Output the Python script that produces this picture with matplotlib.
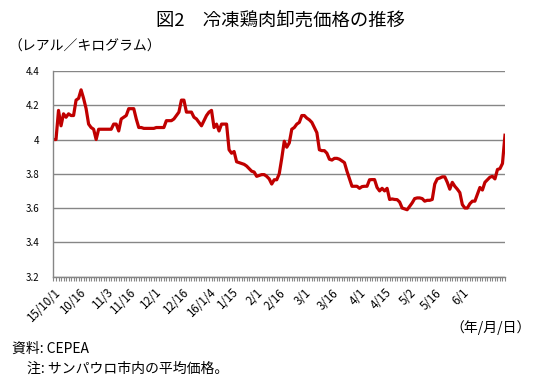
import pandas as pd
import matplotlib
matplotlib.use("Agg")
from matplotlib import pyplot as plt
from matplotlib.ticker import FixedLocator

plt.rcParams['font.family'] = ['Noto Sans CJK JP', 'DejaVu Sans']

# Business days (Sao Paulo) from 2015/10/1 to 2016/6/24.
holidays = ["2015-10-12", "2015-11-02", "2015-11-20", "2015-12-25",
            "2016-01-01", "2016-01-25", "2016-02-08", "2016-02-09",
            "2016-03-25", "2016-04-21", "2016-05-26"]
dates = pd.bdate_range("2015-10-01", "2016-06-24", freq="C", holidays=holidays)

# Wholesale price of frozen chicken (BRL/kg).
prices = [
    4.00, 4.00, 4.17, 4.08, 4.15, 4.13, 4.15, 4.14, 4.14, 4.23,
    4.24, 4.29, 4.24, 4.18, 4.09, 4.07, 4.06, 4.00, 4.06, 4.06,
    4.06, 4.06, 4.06, 4.06, 4.09, 4.09, 4.05, 4.12, 4.13, 4.14,
    4.18, 4.18, 4.18, 4.12, 4.07, 4.07, 4.065, 4.065, 4.065, 4.065,
    4.065, 4.07, 4.07, 4.07, 4.07, 4.11, 4.11, 4.11, 4.12, 4.14,
    4.16, 4.23, 4.23, 4.16, 4.16, 4.16, 4.13, 4.12, 4.10, 4.08,
    4.11, 4.14, 4.16, 4.17, 4.07, 4.09, 4.05, 4.09, 4.09, 4.09,
    3.94, 3.92, 3.93, 3.87, 3.865, 3.86, 3.855, 3.845, 3.83, 3.815,
    3.81, 3.785, 3.79, 3.795, 3.795, 3.785, 3.77, 3.74, 3.765, 3.765,
    3.80, 3.89, 3.99, 3.955, 3.98, 4.06, 4.07, 4.09, 4.10, 4.14,
    4.14, 4.125, 4.115, 4.10, 4.07, 4.04, 3.94, 3.935, 3.935, 3.92,
    3.885, 3.88, 3.89, 3.89, 3.885, 3.875, 3.865, 3.815, 3.77, 3.727,
    3.727, 3.727, 3.715, 3.725, 3.727, 3.727, 3.765, 3.766, 3.766, 3.72,
    3.70, 3.715, 3.70, 3.715, 3.65, 3.653, 3.65, 3.649, 3.635, 3.60,
    3.595, 3.59, 3.61, 3.63, 3.655, 3.659, 3.659, 3.655, 3.64, 3.645,
    3.645, 3.65, 3.74, 3.77, 3.775, 3.782, 3.782, 3.75, 3.71, 3.75,
    3.727, 3.71, 3.69, 3.62, 3.60, 3.60, 3.625, 3.64, 3.64, 3.68,
    3.72, 3.705, 3.75, 3.765, 3.78, 3.785, 3.77, 3.825, 3.83, 3.86,
    4.025,
]

tick_dates = ["2015-10-01", "2015-10-16", "2015-11-03", "2015-11-16",
              "2015-12-01", "2015-12-16", "2016-01-04", "2016-01-15",
              "2016-02-01", "2016-02-16", "2016-03-01", "2016-03-16",
              "2016-04-01", "2016-04-15", "2016-05-02", "2016-05-16",
              "2016-06-01"]
tick_labels = ["15/10/1", "10/16", "11/3", "11/16", "12/1", "12/16",
               "16/1/4", "1/15", "2/1", "2/16", "3/1", "3/16", "4/1",
               "4/15", "5/2", "5/16", "6/1"]
y_ticks = [3.2, 3.4, 3.6, 3.8, 4.0, 4.2, 4.4]
y_labels = ["3.2", "3.4", "3.6", "3.8", "4", "4.2", "4.4"]

x = list(range(len(dates)))
tick_pos = [dates.get_loc(pd.Timestamp(d)) for d in tick_dates]

fig = plt.figure(figsize=(5.42, 3.83), dpi=100)
ax = fig.add_axes([0.0987, 0.278, 0.833, 0.5366])

ax.plot(x, prices, color="#C00000", linewidth=2.3, solid_joinstyle="round")

ax.set_xlim(0, len(x) - 1)
ax.set_ylim(3.2, 4.4)
ax.set_yticks(y_ticks)
ax.set_yticklabels(y_labels, fontsize=7)
ax.yaxis.grid(True, color="#868686", linewidth=1)
ax.set_axisbelow(True)

ax.set_xticks(tick_pos)
ax.set_xticklabels(tick_labels, rotation=45, ha="right", va="top",
                   rotation_mode="anchor", fontsize=8.3)
ax.xaxis.set_minor_locator(FixedLocator(x))
ax.tick_params(axis="x", which="both", length=3, width=0.8,
               color="#868686", direction="out", pad=4)
ax.tick_params(axis="y", length=0, pad=10)

for side in ["top", "right"]:
    ax.spines[side].set_visible(False)
for side in ["left", "bottom"]:
    ax.spines[side].set_color("#868686")
    ax.spines[side].set_linewidth(1)

fig.text(0.518, 0.945, "図2　冷凍鶏肉卸売価格の推移", ha="center", va="center",
         fontsize=13.2)
fig.text(0.016, 0.877, "（レアル／キログラム）", ha="left", va="center",
         fontsize=10)
fig.text(0.98, 0.146, "（年/月/日）", ha="right", va="center", fontsize=10)
fig.text(0.022, 0.09, "資料: CEPEA", ha="left", va="center", fontsize=10)
fig.text(0.05, 0.038, "注: サンパウロ市内の平均価格。", ha="left", va="center",
         fontsize=10)

fig.savefig("out.png", dpi=100)
